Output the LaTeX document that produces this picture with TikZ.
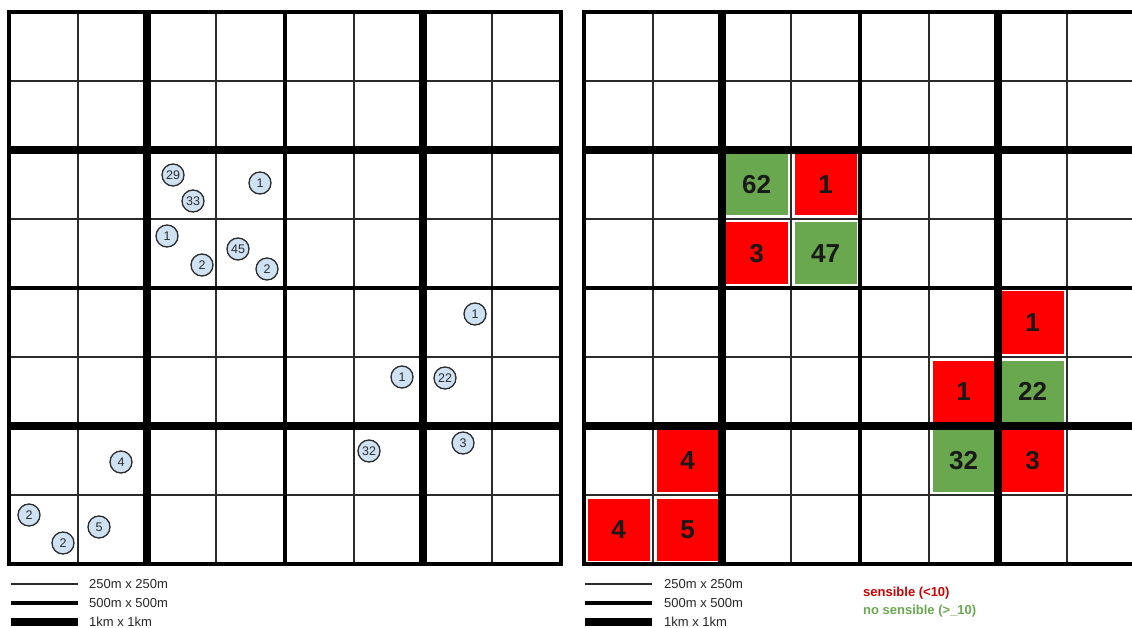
\documentclass[tikz,border=0pt]{standalone}
\usepackage{fontspec}
\setmainfont{Liberation Sans}
\usetikzlibrary{positioning}
\definecolor{siteblue}{HTML}{CFE2F3}
\definecolor{inkgray}{HTML}{2B2B2B}
\definecolor{okgreen}{HTML}{6AA84F}
\definecolor{lowred}{HTML}{FF0000}
\definecolor{textred}{HTML}{CC0000}
\tikzstyle{site} = [circle, minimum size=22pt, inner sep=0pt, fill=siteblue, draw=inkgray, line width=1.3pt, text=inkgray, font=\fontsize{12.5}{12.5}\selectfont]
\tikzstyle{cell} = [rectangle, minimum size=63pt, inner sep=0pt, draw=white, line width=1pt, text=black!90, font=\fontsize{26}{26}\selectfont\bfseries]
\tikzstyle{low} = [cell, fill=lowred]
\tikzstyle{high} = [cell, fill=okgreen]
\tikzstyle{thinline} = [line width=1.1pt, draw=inkgray]
\tikzstyle{midline} = [line width=3.5pt, draw=black]
\tikzstyle{thickline} = [line width=8.5pt, draw=black]
\tikzstyle{legendtext} = [anchor=west, inner sep=0pt, font=\fontsize{13}{13}\selectfont, text=black!85]
\tikzstyle{keytext} = [anchor=west, inner sep=0pt, font=\fontsize{13}{13}\selectfont\bfseries]

\begin{document}
\begin{tikzpicture}[x=1pt, y=-1pt]
\clip (0,0) rectangle (1132,628);
\useasboundingbox (0,0) rectangle (1132,628);

% Right map: counted cells
\node (q62) [high] at (756.5,184.5) {62};
\node (q1a) [low] at (825.5,184.5) {1};
\node (q3a) [low] at (756.5,253.5) {3};
\node (q47) [high] at (825.5,253.5) {47};
\node (q1b) [low] at (1032.5,322.5) {1};
\node (q1c) [low] at (963.5,391.5) {1};
\node (q22) [high] at (1032.5,391.5) {22};
\node (q32) [high] at (963.5,460.5) {32};
\node (q3b) [low] at (1032.5,460.5) {3};
\node (q4a) [low] at (687.5,460.5) {4};
\node (q4b) [low] at (618.5,529.5) {4};
\node (q5) [low] at (687.5,529.5) {5};

% Grids
\foreach \ox in {9,584}{
  \foreach \i in {1,3,5,7}{
    \draw[thinline] ({\ox+69*\i},12) -- ({\ox+69*\i},564);
    \draw[thinline] (\ox,{12+69*\i}) -- ({\ox+552},{12+69*\i});
  }
  \draw[midline] ({\ox+276},12) -- ({\ox+276},564);
  \draw[midline] (\ox,288) -- ({\ox+552},288);
  \foreach \i in {2,6}{
    \draw[thickline] ({\ox+69*\i},12) -- ({\ox+69*\i},564);
    \draw[thickline] (\ox,{12+69*\i}) -- ({\ox+552},{12+69*\i});
  }
  \draw[midline] (\ox,12) rectangle ({\ox+552},564);
}

% Left map: sites
\node (c29) [site] at (173,175) {29};
\node (c33) [site] at (193,201) {33};
\node (c1a) [site] at (260,183) {1};
\node (c1b) [site] at (167,236) {1};
\node (c2a) [site] at (202,265) {2};
\node (c45) [site] at (238,249) {45};
\node (c2b) [site] at (267,269) {2};
\node (c1c) [site] at (475,314) {1};
\node (c1d) [site] at (402,377) {1};
\node (c22) [site] at (445,378) {22};
\node (c3) [site] at (463,443) {3};
\node (c32) [site] at (369,451) {32};
\node (c4) [site] at (121,462) {4};
\node (c2c) [site] at (29,515) {2};
\node (c2d) [site] at (63,543) {2};
\node (c5) [site] at (99,527) {5};

% Legends
\coordinate (la1) at (11,584);
\coordinate (la2) at (78,584);
\coordinate (lb1) at (11,603);
\coordinate (lb2) at (78,603);
\coordinate (lc1) at (11,622);
\coordinate (lc2) at (78,622);
\draw[thinline] (la1) -- (la2);
\draw[midline] (lb1) -- (lb2);
\draw[line width=8pt] (lc1) -- (lc2);
\node (lat) [legendtext] at (89,584) {250m x 250m};
\node (lbt) [legendtext] at (89,603) {500m x 500m};
\node (lct) [legendtext] at (89,622) {1km x 1km};

\coordinate (ra1) at (585,584);
\coordinate (ra2) at (652,584);
\coordinate (rb1) at (585,603);
\coordinate (rb2) at (652,603);
\coordinate (rc1) at (585,622);
\coordinate (rc2) at (652,622);
\draw[thinline] (ra1) -- (ra2);
\draw[midline] (rb1) -- (rb2);
\draw[line width=8pt] (rc1) -- (rc2);
\node (rat) [legendtext] at (664,584) {250m x 250m};
\node (rbt) [legendtext] at (664,603) {500m x 500m};
\node (rct) [legendtext] at (664,622) {1km x 1km};

\node (keylow) [keytext, text=textred] at (863,593) {sensible (<10)};
\node (keyhigh) [keytext, text=okgreen] at (863,611) {no sensible (>\_10)};

\end{tikzpicture}
\end{document}
